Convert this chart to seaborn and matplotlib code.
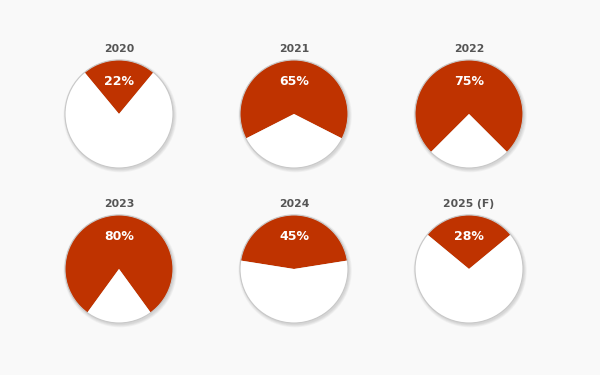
import matplotlib
matplotlib.use("Agg")
import matplotlib.pyplot as plt
import seaborn as sns

sns.set_theme(style="white")
plt.rcParams["font.family"] = ["DejaVu Sans"]

# dados
anos = ["2020", "2021", "2022", "2023", "2024", "2025 (F)"]
percentuais = [22, 65, 75, 80, 45, 28]

COR = "#bf3300"
FUNDO = "#f9f9f9"

W, H = 600, 375
fig = plt.figure(figsize=(6, 3.75), dpi=100, facecolor=FUNDO)

centros_x = [119, 294, 469]
centros_y = [114, 269]
R = 54

for i, (ano, p) in enumerate(zip(anos, percentuais)):
    cx = centros_x[i % 3]
    cy = centros_y[i // 3]
    ax = fig.add_axes([(cx - R) / W, 1 - (cy + R) / H, 2 * R / W, 2 * R / H])
    ax.set_facecolor("none")

    frac = p / 100
    wedges, _ = ax.pie(
        [frac, 1 - frac], colors=[COR, "white"], startangle=90 - 180 * frac,
        counterclock=True, radius=1, wedgeprops=dict(linewidth=0)
    )
    for w in wedges:
        w.set_zorder(1)
    # sombra suave
    for k, r in enumerate([1.05, 1.035, 1.02, 1.005]):
        ax.add_patch(plt.Circle((0.02, -0.03), r, facecolor="black", alpha=0.035,
                                lw=0, zorder=0, clip_on=False))
    ax.add_patch(plt.Circle((0, 0), 1, facecolor="none", edgecolor="#c8c8c8",
                            lw=0.8, zorder=2, clip_on=False))

    ax.text(0, 0.61, f"{p}%", ha="center", va="center", color="white",
            fontsize=9, fontweight="bold", zorder=3)
    ax.text(0, 1.2, ano, ha="center", va="center", color="#555555",
            fontsize=7.8, fontweight="bold")
    ax.set_xlim(-1, 1)
    ax.set_ylim(-1, 1)
    ax.axis("off")

fig.savefig("out.png", dpi=100, facecolor=FUNDO)
